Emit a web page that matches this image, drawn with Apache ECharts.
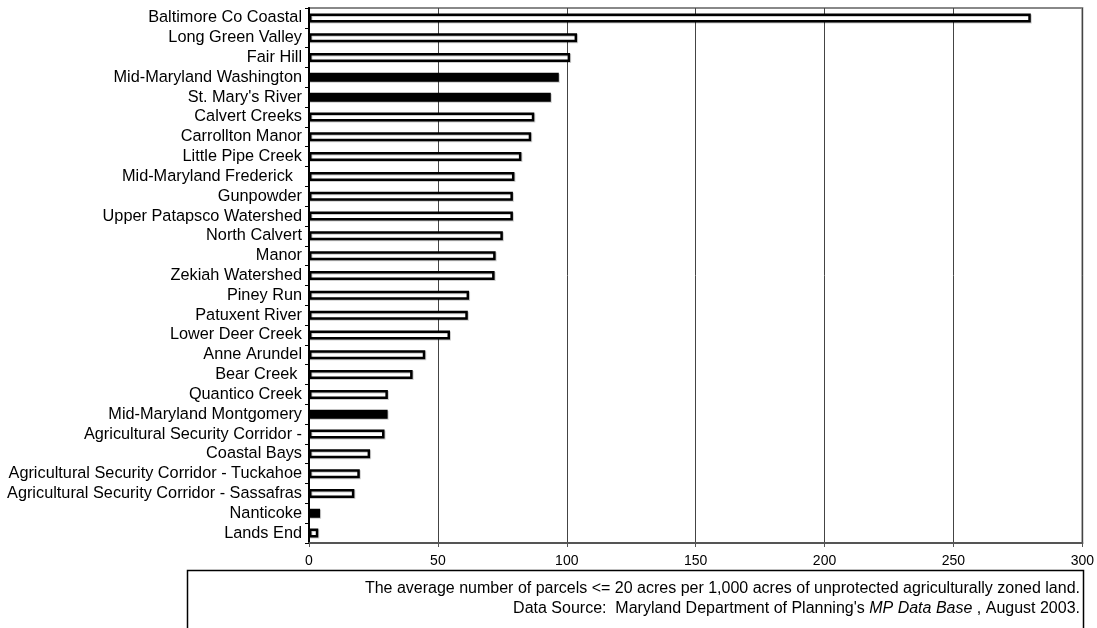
<!DOCTYPE html>
<html>
<head>
<meta charset="utf-8">
<script src="https://cdn.jsdelivr.net/npm/echarts@6/dist/echarts.min.js"></script>
<style>
html,body{margin:0;padding:0;background:#fff;}
#chart{width:1097px;height:628px;}
</style>
</head>
<body>
<div id="chart"></div>
<script>
const categories = [
  'Baltimore Co Coastal',
  'Long Green Valley',
  'Fair Hill',
  'Mid-Maryland Washington',
  "St. Mary's River",
  'Calvert Creeks',
  'Carrollton Manor',
  'Little Pipe Creek',
  'Mid-Maryland Frederick  ',
  'Gunpowder',
  'Upper Patapsco Watershed',
  'North Calvert',
  'Manor',
  'Zekiah Watershed',
  'Piney Run',
  'Patuxent River',
  'Lower Deer Creek',
  'Anne Arundel',
  'Bear Creek ',
  'Quantico Creek',
  'Mid-Maryland Montgomery',
  'Agricultural Security Corridor -',
  'Coastal Bays',
  'Agricultural Security Corridor - Tuckahoe',
  'Agricultural Security Corridor - Sassafras',
  'Nanticoke',
  'Lands End'
];
const values = [280, 104, 101.3, 96.9, 93.8, 87.4, 86.2, 82.4, 79.7, 79.1, 79.1, 75.2, 72.4, 72, 62.1, 61.6, 54.7, 45.1, 40.2, 30.6, 30.5, 29.3, 23.7, 19.7, 17.6, 4.3, 3.6];
const solidBars = ['Mid-Maryland Washington', "St. Mary's River", 'Mid-Maryland Montgomery', 'Nanticoke'];
const xTicks = { min: 0, max: 300, interval: 50 };
const noteLine1 = 'The average number of parcels <= 20 acres per 1,000 acres of unprotected agriculturally zoned land.';
const noteLine2a = "Data Source:  Maryland Department of Planning's ";
const noteLine2b = 'MP Data Base';
const noteLine2c = ' , August 2003.';

const FONT = '"Liberation Sans", Arial, Helvetica, sans-serif';
const chart = echarts.init(document.getElementById('chart'), null, { renderer: 'canvas' });

const seriesData = values.map((v, i) => {
  const solid = solidBars.indexOf(categories[i].trim()) >= 0;
  return {
    value: v,
    itemStyle: {
      color: solid ? '#000' : '#fff',
      borderColor: '#000',
      borderWidth: 2.5,
      shadowColor: 'rgba(0,0,0,0.2)',
      shadowOffsetX: 1,
      shadowOffsetY: 1,
      shadowBlur: 0
    }
  };
});

chart.setOption({
  animation: false,
  backgroundColor: '#fff',
  graphic: [{
    type: 'rect',
    shape: { x: 187.5, y: 570.5, width: 896, height: 60 },
    style: { fill: 'none', stroke: '#000', lineWidth: 1.5 },
    z: 10
  }, {
    type: 'text',
    x: 1080,
    y: 589,
    style: {
      text: noteLine1,
      fontFamily: FONT,
      fontSize: 16,
      fill: '#000',
      align: 'right',
      verticalAlign: 'middle'
    },
    z: 11
  }, {
    type: 'text',
    x: 1080,
    y: 609,
    style: {
      text: noteLine2a + '{i|' + noteLine2b + '}' + noteLine2c,
      fontFamily: FONT,
      fontSize: 16,
      fill: '#000',
      align: 'right',
      verticalAlign: 'middle',
      rich: {
        i: { fontFamily: FONT, fontSize: 16, fontStyle: 'italic', fill: '#000' }
      }
    },
    z: 11
  }],
  grid: {
    left: 309,
    right: 14,
    top: 8,
    bottom: 85,
    show: true,
    borderColor: '#888',
    borderWidth: 2,
    backgroundColor: '#fff'
  },
  xAxis: {
    type: 'value',
    min: xTicks.min,
    max: xTicks.max,
    interval: xTicks.interval,
    axisLine: { show: true, lineStyle: { color: '#555', width: 2 } },
    axisTick: { show: true, length: 4, lineStyle: { color: '#555' } },
    axisLabel: { fontFamily: FONT, fontSize: 14, color: '#000', margin: 11 },
    splitLine: { show: true, lineStyle: { color: '#444', width: 1 } }
  },
  yAxis: {
    type: 'category',
    data: categories,
    inverse: true,
    axisLine: { show: true, lineStyle: { color: '#000', width: 2 } },
    axisTick: { show: true, length: 4, lineStyle: { color: '#000', width: 1 } },
    axisLabel: { fontFamily: FONT, fontSize: 16.3, color: '#000', margin: 7, interval: 0 },
    splitLine: { show: false }
  },
  series: [{
    type: 'bar',
    data: seriesData,
    barWidth: 9,
    z: 3
  }]
});
</script>
</body>
</html>
